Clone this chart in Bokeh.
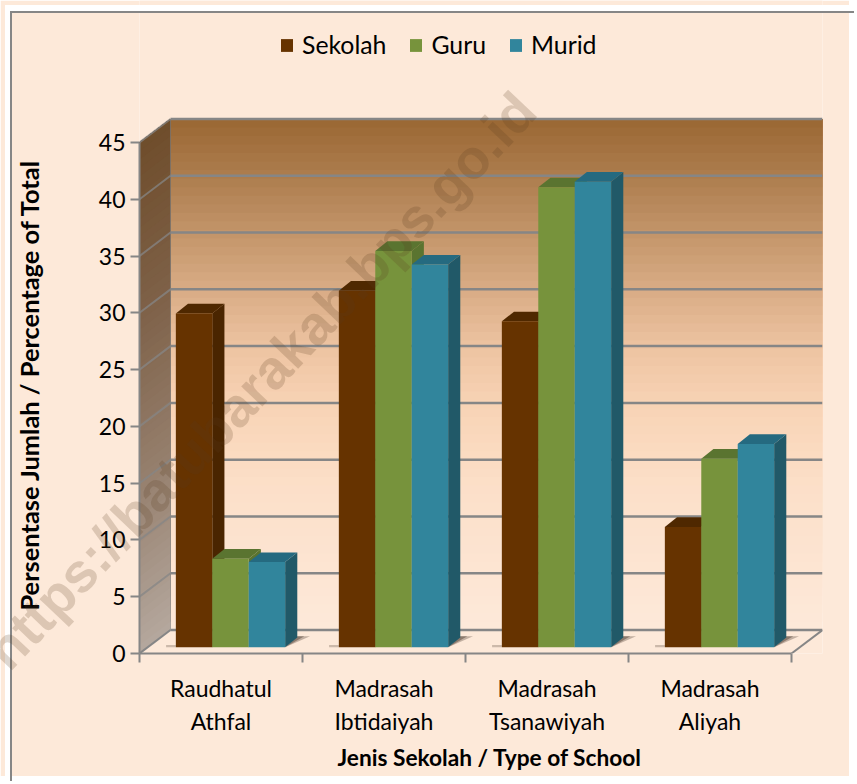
from bokeh.plotting import figure
from bokeh.embed import file_html
from bokeh.resources import INLINE
from bokeh.layouts import column
from bokeh.models import (Range1d, LinearAxis, FixedTicker, Legend, LegendItem, Title, Div)

# ---- data ----
categories_line1 = ["Raudhatul", "Madrasah", "Madrasah", "Madrasah"]
categories_line2 = ["Athfal", "Ibtidaiyah", "Tsanawiyah", "Aliyah"]
sekolah = [29.4, 31.4, 28.7, 10.6]
guru = [7.8, 34.9, 40.5, 16.6]
murid = [7.5, 33.7, 41.0, 17.9]
series_names = ["Sekolah", "Guru", "Murid"]
y_ticks = [0, 5, 10, 15, 20, 25, 30, 35, 40, 45]
watermark = "https://batubarakab.bps.go.id"

# ---- styling ----
BG = "#FDE9D9"
GRID = "#868686"
FRONT = ["#663300", "#77933C", "#31859C"]
TOP = ["#4F2800", "#5A7430", "#256A80"]
SIDE = ["#4A2500", "#5A7430", "#215968"]
FONT = "Lato"
# depth of the 3-D box, in axis units
DX = 31 / 163
DY = 23.5 / 11.366
BAR_W = 0.2235
GAP = 0.165
OFF_X, OFF_Y = 0.058, 0.55     # bars stand this far behind the front edge
BAR_DX, BAR_DY = 0.0745, 0.85  # depth of a bar

WALL_STOPS = [(47.07, "#9A6733"), (42, "#AD7D4E"), (37, "#C3956A"), (32, "#D9AC85"),
              (27, "#EDC3A1"), (22, "#F8D3B5"), (15, "#FCDFC8"), (2.07, "#FDE9D9")]
SIDE_STOPS = [(45, "#6F4D2B"), (30, "#7E6148"), (15, "#96806E"), (0, "#B5A89E")]
W, H = 849, 776


def lerp(stops, v):
    for (v0, c0), (v1, c1) in zip(stops, stops[1:]):
        if v1 <= v <= v0:
            t = (v0 - v) / (v0 - v1)
            a = [int(c0[i:i + 2], 16) for i in (1, 3, 5)]
            b = [int(c1[i:i + 2], 16) for i in (1, 3, 5)]
            return "#%02x%02x%02x" % tuple(round(p + (q - p) * t) for p, q in zip(a, b))
    return stops[-1][1]


XMAX = 4 + DX
YMAX = 45 + DY
# the frame runs up to the top of the canvas so that the legend can sit inside it
Y_FRAME_TOP = 653 / 11.356
p = figure(width=W, height=H, output_backend="svg", toolbar_location=None,
           x_range=Range1d(0, XMAX), y_range=Range1d(0, Y_FRAME_TOP),
           x_axis_type=None, y_axis_type=None,
           min_border_left=139, min_border_right=27, min_border_top=0, min_border_bottom=123,
           border_fill_color=BG, background_fill_color=BG, outline_line_color=None)
p.grid.visible = False

# gradients are painted from the bottom upwards, each band covering everything above it
N = 60
for i in range(N):
    y0 = DY + (YMAX - DY) * i / N
    y1 = DY + (YMAX - DY) * (i + 1) / N
    p.quad(left=DX, right=XMAX, top=YMAX, bottom=y0, fill_color=lerp(WALL_STOPS, (y0 + y1) / 2), line_color=None)
for i in range(N):
    y0 = 45 * i / N
    y1 = 45 * (i + 1) / N
    p.patch([0, DX, DX, 0], [y0, y0 + DY, YMAX, 45], fill_color=lerp(SIDE_STOPS, (y0 + y1) / 2), line_color=None)

# floor
p.patch([0, 4, XMAX, DX], [0, 0, DY, DY], fill_color=BG, line_color=None)

# grid on walls
for v in y_ticks:
    p.line([DX, XMAX], [v + DY, v + DY], line_color=GRID, line_width=2.5)
    p.line([0, DX], [v, v + DY], line_color=GRID, line_width=2, line_alpha=0.75 if v else 1)
p.line([DX, DX], [DY, YMAX], line_color=GRID, line_width=1, line_alpha=0.6)
p.line([4, XMAX], [0, DY], line_color=GRID, line_width=2)

# bars
for c in range(4):
    g_left = c + GAP + OFF_X
    g_right = g_left + 3 * BAR_W
    # soft shadows on the floor
    for a, k in ((0.3, 1.0), (0.4, 0.55)):
        p.patch([g_right, g_right + BAR_DX * (1 + 1.05 * k), g_right + BAR_DX],
                [OFF_Y, OFF_Y + BAR_DY * 1.15, OFF_Y + BAR_DY * 1.15],
                fill_color="#3a2a20", fill_alpha=a, line_color=None)
    p.quad(left=g_left - 0.06, right=g_left, top=OFF_Y + 0.2, bottom=OFF_Y, fill_color="#3a2a20", fill_alpha=0.25, line_color=None)

renderers = [None, None, None]
for c in range(4):
    g_left = c + GAP + OFF_X
    for s, vals in enumerate((sekolah, guru, murid)):
        v = vals[c]
        x0 = g_left + s * BAR_W
        x1 = x0 + BAR_W
        y0 = OFF_Y
        y1 = OFF_Y + v
        p.patch([x1, x1 + BAR_DX, x1 + BAR_DX, x1], [y0, y0 + BAR_DY, y1 + BAR_DY, y1], fill_color=SIDE[s], line_color=None)
        p.patch([x0, x0 + BAR_DX, x1 + BAR_DX, x1], [y1, y1 + BAR_DY, y1 + BAR_DY, y1], fill_color=TOP[s], line_color=None)
        r = p.quad(left=x0, right=x1, bottom=y0, top=y1, fill_color=FRONT[s], line_color=None)
        renderers[s] = r

# axes
yax = LinearAxis(ticker=FixedTicker(ticks=y_ticks), bounds=(0, 45),
                 major_label_text_font=FONT, major_label_text_font_size="23px", major_label_text_color="#000000",
                 major_label_standoff=5, axis_line_color=GRID, axis_line_width=2,
                 major_tick_line_color=GRID, major_tick_line_width=2, major_tick_in=0, major_tick_out=9,
                 minor_tick_line_color=None)
p.add_layout(yax, "left")
# a blank title keeps the y title away from the tick labels
p.add_layout(Title(text=" ", text_font=FONT, text_font_size="10px", standoff=38), "left")
p.add_layout(Title(text="Persentase Jumlah / Percentage of Total", align="left", offset=43, text_font=FONT,
                   text_font_size="25.4px", text_font_style="bold", text_color="#000000", standoff=0), "left")

label_pos = [0.5, 1.5, 2.5, 3.5]
xax1 = LinearAxis(ticker=FixedTicker(ticks=label_pos, minor_ticks=[0, 1, 2, 3, 4]), bounds=(0, 4),
                  major_label_overrides=dict(zip(label_pos, categories_line1)),
                  major_label_text_font=FONT, major_label_text_font_size="23px", major_label_text_color="#000000",
                  major_label_standoff=11, axis_line_color=GRID, axis_line_width=2,
                  major_tick_line_color=None, major_tick_in=0, major_tick_out=0,
                  minor_tick_line_color=GRID, minor_tick_line_width=2, minor_tick_in=0, minor_tick_out=9)
p.add_layout(xax1, "below")
xax2 = LinearAxis(ticker=FixedTicker(ticks=label_pos), bounds=(0, 4),
                  major_label_overrides=dict(zip(label_pos, categories_line2)),
                  major_label_text_font=FONT, major_label_text_font_size="23px", major_label_text_color="#000000",
                  major_label_standoff=2, axis_line_color=None,
                  major_tick_line_color=None, major_tick_in=0, major_tick_out=0, minor_tick_line_color=None)
p.add_layout(xax2, "below")
p.add_layout(Title(text="Jenis Sekolah / Type of School", align="left", offset=198, text_font=FONT,
                   text_font_size="22.7px", text_font_style="bold", text_color="#000000", standoff=9), "below")

# legend
legend = Legend(items=[LegendItem(label=n, renderers=[r]) for n, r in zip(series_names, renderers)],
                orientation="horizontal", location=(140, 594), background_fill_alpha=0, border_line_color=None,
                label_text_font=FONT, label_text_font_size="24.8px", label_text_color="#000000",
                glyph_width=15, glyph_height=16, label_standoff=8, spacing=22, padding=0, margin=0)
p.add_layout(legend, "center")

# white strip, chart-area border (only its top and left edges show) and the watermark lie over the chart
strip = Div(text="", width=W, height=H,
            styles={"position": "absolute", "left": "0px", "top": "0px", "pointer-events": "none",
                    "box-sizing": "border-box", "border-left": "5px solid #ffffff",
                    "border-top": "6px solid #ffffff", "z-index": "4"})
border = Div(text="", width=W - 5, height=H - 6,
             styles={"position": "absolute", "left": "5px", "top": "6px", "pointer-events": "none",
                     "box-sizing": "border-box", "border-left": "2px solid " + GRID,
                     "border-top": "2px solid " + GRID, "z-index": "5"})
mark = Div(text=watermark, width=800, height=64,
           styles={"position": "absolute", "left": "14px", "top": "613px", "pointer-events": "none",
                   "font-family": "'Liberation Sans'", "font-weight": "bold", "font-size": "55px",
                   "line-height": "64px", "white-space": "nowrap", "color": "rgba(90,58,32,0.2)",
                   "transform": "rotate(-46.5deg)", "transform-origin": "0% 100%", "z-index": "6"})

page = column(p, strip, border, mark, spacing=0)
open("out.html", "w").write(file_html(page, INLINE))
